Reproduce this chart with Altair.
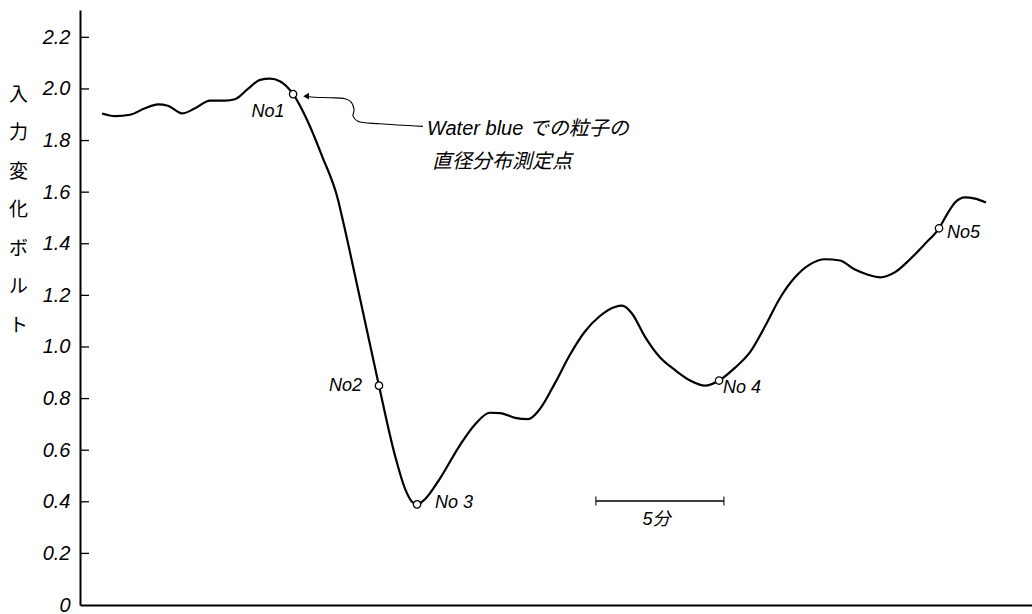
import altair as alt
import pandas as pd

# ---- data (x in minutes, y in volts) ----
curve_min = [0.87, 1.38, 1.97, 2.56, 3.07, 3.46, 4.02, 4.53, 5.12, 5.71, 6.10, 6.61,
             7.09, 7.48, 7.87, 8.39, 8.94, 9.53, 10.16, 10.35, 11.02, 11.77, 12.40,
             12.80, 13.07, 13.27, 13.58, 14.17, 14.96, 15.55, 16.14, 16.54, 17.13,
             17.64, 18.11, 18.70, 19.29, 19.88, 20.47, 21.06, 21.34, 21.73, 22.24,
             22.83, 23.43, 24.02, 24.61, 25.16, 25.79, 26.38, 26.97, 27.56, 28.15,
             28.74, 29.33, 29.92, 30.51, 31.02, 31.50, 32.09, 32.68, 33.27, 33.82,
             34.17, 34.45, 34.84, 35.24, 35.67]
curve_val = [1.905, 1.895, 1.90, 1.925, 1.94, 1.935, 1.905, 1.925, 1.955, 1.955, 1.96, 2.00,
             2.035, 2.04, 2.03, 1.98, 1.88, 1.74, 1.57, 1.49, 1.19, 0.85, 0.58,
             0.45, 0.40, 0.39, 0.41, 0.49, 0.62, 0.70, 0.745, 0.744, 0.725,
             0.72, 0.76, 0.86, 0.97, 1.06, 1.12, 1.155, 1.16, 1.13, 1.04,
             0.96, 0.91, 0.87, 0.85, 0.87, 0.92, 0.98, 1.08, 1.19, 1.27,
             1.32, 1.34, 1.335, 1.30, 1.28, 1.27, 1.29, 1.34, 1.40, 1.46,
             1.52, 1.56, 1.58, 1.575, 1.56]

pt_min = [8.39, 11.77, 13.27, 25.16, 33.82]
pt_val = [1.98, 0.85, 0.39, 0.87, 1.46]

lab_text = ["No1", "No2", "No 3", "No 4", "No5"]
lab_min = [7.40, 11.10, 13.98, 25.31, 34.13]
lab_val = [1.91, 0.85, 0.395, 0.84, 1.44]
lab_align = ["center", "right", "left", "left", "left"]

y_ticks = [0.2, 0.4, 0.6, 0.8, 1.0, 1.2, 1.4, 1.6, 1.8, 2.0, 2.2]

lead_min = [8.90, 9.25, 9.84, 10.43, 10.67, 10.79, 10.75, 10.94, 11.81, 13.50]
lead_val = [1.972, 1.968, 1.966, 1.962, 1.95, 1.92, 1.895, 1.875, 1.865, 1.855]
arrow_min = [8.90]
arrow_val = [1.972]

note_lines = ["Water  blue  での粒子の", "直径分布測定点"]
note_min = [13.66, 13.86]
note_val = [1.845, 1.715]

bar_min = [20.31, 25.35]
bar_val = [0.403, 0.403]
bar_label = ["5分"]
bar_label_min = [22.7]
bar_label_val = [0.33]

y_title = list("入力変化ボルト")

# ---- scales ----
X_DOMAIN = [0, 37.48]
Y_DOMAIN = [0, 2.306]
xs = alt.Scale(domain=X_DOMAIN, nice=False, zero=False)
ys = alt.Scale(domain=Y_DOMAIN, nice=False)

FONT = "Liberation Sans, Noto Sans CJK JP"

curve_df = pd.DataFrame({"t": curve_min, "v": curve_val})
pt_df = pd.DataFrame({"t": pt_min, "v": pt_val})
lab_df = pd.DataFrame({"t": lab_min, "v": lab_val, "txt": lab_text, "al": lab_align})
tick_df = pd.DataFrame({"v": y_ticks})
lead_df = pd.DataFrame({"t": lead_min, "v": lead_val, "i": list(range(len(lead_min)))})
arrow_df = pd.DataFrame({"t": arrow_min, "v": arrow_val})
note_df = pd.DataFrame({"t": note_min, "v": note_val, "txt": note_lines})
bar_df = pd.DataFrame({"t": bar_min, "v": bar_val})
barlab_df = pd.DataFrame({"t": bar_label_min, "v": bar_label_val, "txt": bar_label})

x_enc = alt.X("t:Q", scale=xs,
              axis=alt.Axis(labels=False, ticks=False, title=None, grid=False,
                            domainColor="black", domainWidth=2))
y_enc = alt.Y("v:Q", scale=ys,
              axis=alt.Axis(values=y_ticks + [0], ticks=False, grid=False,
                            domainColor="black", domainWidth=2,
                            labelExpr="datum.value == 0 ? '0' : format(datum.value, '.1f')",
                            labelFont=FONT, labelFontStyle="italic", labelFontSize=20,
                            labelFontWeight="normal",
                            labelColor="black", labelPadding=10,
                            title=y_title, titleAngle=0, titleFont="Noto Sans CJK JP",
                            titleFontSize=19, titleFontWeight="normal", titleColor="black",
                            titleX=-62, titleY=75, titleAlign="center",
                            titleBaseline="top", titleLineHeight=38.5))

base_line = alt.Chart(curve_df).mark_line(
    color="black", strokeWidth=2.2, interpolate="monotone"
).encode(x=x_enc, y=y_enc)

ticks = alt.Chart(tick_df).mark_rule(color="black", strokeWidth=1.3).encode(
    x=alt.value(0), x2=alt.value(9), y=alt.Y("v:Q", scale=ys))

points = alt.Chart(pt_df).mark_point(
    shape="circle", filled=True, fill="white", stroke="black", strokeWidth=1.3,
    size=55, opacity=1
).encode(x=alt.X("t:Q", scale=xs), y=alt.Y("v:Q", scale=ys))

def labels_layer(align):
    return alt.Chart(lab_df[lab_df["al"] == align]).mark_text(
        align=align, baseline="middle", font=FONT, fontStyle="italic",
        fontSize=18, color="black"
    ).encode(x=alt.X("t:Q", scale=xs), y=alt.Y("v:Q", scale=ys), text="txt:N")

leader = alt.Chart(lead_df).mark_line(
    color="black", strokeWidth=1.1, interpolate="catmull-rom"
).encode(x=alt.X("t:Q", scale=xs), y=alt.Y("v:Q", scale=ys), order="i:Q")

arrow = alt.Chart(arrow_df).mark_point(
    shape="triangle-left", filled=True, color="black", size=45, opacity=1
).encode(x=alt.X("t:Q", scale=xs), y=alt.Y("v:Q", scale=ys))

note = alt.Chart(note_df).mark_text(
    align="left", baseline="middle", font=FONT, fontStyle="italic",
    fontSize=20, color="black"
).encode(x=alt.X("t:Q", scale=xs), y=alt.Y("v:Q", scale=ys), text="txt:N")

bar = alt.Chart(bar_df).mark_line(color="black", strokeWidth=1.5).encode(
    x=alt.X("t:Q", scale=xs), y=alt.Y("v:Q", scale=ys))
bar_caps = alt.Chart(bar_df).mark_tick(
    color="black", orient="vertical", size=9, thickness=1.5
).encode(x=alt.X("t:Q", scale=xs), y=alt.Y("v:Q", scale=ys))
bar_text = alt.Chart(barlab_df).mark_text(
    align="center", baseline="middle", font=FONT, fontStyle="italic",
    fontSize=18, color="black"
).encode(x=alt.X("t:Q", scale=xs), y=alt.Y("v:Q", scale=ys), text="txt:N")

chart = alt.layer(
    base_line, ticks, leader, arrow, points,
    labels_layer("center"), labels_layer("right"), labels_layer("left"),
    note, bar, bar_caps, bar_text
).properties(
    width=952, height=595,
    autosize=alt.AutoSizeParams(type="none"),
    padding={"left": 80, "top": 10, "right": 0, "bottom": 9},
    background="white"
).configure_view(stroke=None)

chart.save("out.html", embed_options={"renderer": "svg", "actions": False})
